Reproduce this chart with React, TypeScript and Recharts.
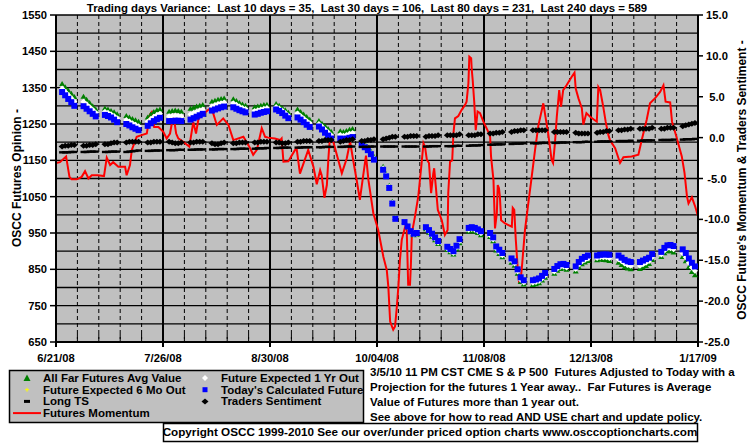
import React from "react";
import { ComposedChart, Scatter, Line, XAxis, YAxis, CartesianGrid } from "recharts";

const FONT = '"Liberation Sans", Arial, sans-serif';

const title =
  "Trading days Variance:  Last 10 days = 35,  Last 30 days = 106,  Last 80 days = 231,  Last 240 days = 589";

// x axis is calendar days counted from 6/21/08
const dateTicks = [0, 35, 70, 105, 140, 175, 210];
const dateLabels = ["6/21/08", "7/26/08", "8/30/08", "10/04/08", "11/08/08", "12/13/08", "1/17/09"];
const weekTicks = [
  0, 7, 14, 21, 28, 35, 42, 49, 56, 63, 70, 77, 84, 91, 98, 105,
  112, 119, 126, 133, 140, 147, 154, 161, 168, 175, 182, 189, 196, 203, 210,
];

const leftTicks = [650, 700, 750, 800, 850, 900, 950, 1000, 1050, 1100, 1150, 1200, 1250, 1300, 1350, 1400, 1450, 1500, 1550];
const rightTicks = [-25, -20, -15, -10, -5, 0, 5, 10, 15];

// Mon..Fri of each of the 30 weeks shown
const tradingDays: number[] = [];
for (let w = 0; w < 30; w++) for (let k = 2; k <= 6; k++) tradingDays.push(w * 7 + k);

// one row per week
const todayFuture = [
  1338, 1329, 1319, 1310, 1300,
  1299, 1292, 1285, 1278, 1271,
  1275, 1272, 1268, 1262, 1255,
  1250, 1246, 1241, 1237, 1233,
  1245, 1252, 1258, 1263, 1267,
  1258, 1258, 1259, 1259, 1258,
  1262, 1266, 1270, 1274, 1278,
  1287, 1290, 1293, 1296, 1298,
  1296, 1292, 1288, 1285, 1282,
  1276, 1278, 1281, 1283, 1285,
  1290, 1286, 1280, 1273, 1266,
  1268, 1262, 1255, 1248, 1242,
  1243, 1235, 1226, 1218, 1210,
  1210, 1208, 1210, 1212, 1214,
  1192, 1186, 1178, 1167, 1152,
  1124, 1106, 1074, 1031, 989,
  980, 968, 955, 948, 950,
  966, 958, 948, 938, 928,
  912, 906, 900, 915, 933,
  964, 966, 964, 960, 955,
  950, 938, 913, 904, 895,
  880, 872, 850, 828, 820,
  820, 822, 825, 832, 840,
  851, 859, 864, 865, 862,
  858, 870, 879, 884, 888,
  888, 890, 891, 891, 890,
  888, 882, 876, 872, 870,
  870, 874, 878, 882, 892,
  898, 909, 916, 917, 914,
  905, 895, 880, 868, 858,
];

const farFutures = [
  1360, 1351, 1342, 1333, 1324,
  1325, 1317, 1308, 1299, 1290,
  1293, 1290, 1286, 1282, 1277,
  1272, 1268, 1264, 1260, 1256,
  1268, 1276, 1283, 1288, 1290,
  1284, 1286, 1287, 1286, 1284,
  1292, 1295, 1298, 1300, 1302,
  1311, 1314, 1317, 1319, 1320,
  1318, 1313, 1308, 1304, 1300,
  1296, 1298, 1300, 1302, 1303,
  1305, 1300, 1294, 1288, 1281,
  1290, 1283, 1276, 1269, 1262,
  1258, 1251, 1244, 1236, 1229,
  1230, 1228, 1231, 1234, 1236,
  1202, 1195, 1186, 1174, 1160,
  1132, 1112, 1080, 1036, 992,
  980, 966, 952, 944, 945,
  960, 951, 940, 930, 920,
  903, 897, 891, 905, 922,
  954, 956, 954, 950, 944,
  939, 927, 902, 892, 883,
  868, 860, 838, 815, 808,
  807, 809, 812, 819, 827,
  838, 846, 851, 852, 849,
  844, 856, 864, 869, 873,
  875, 877, 876, 875, 873,
  868, 862, 856, 852, 850,
  851, 855, 859, 865, 876,
  884, 894, 900, 900, 896,
  884, 872, 856, 843, 834,
];

const oneYearOut = [
  1348, 1339, 1330, 1321, 1312,
  1311, 1304, 1297, 1289, 1281,
  1284, 1281, 1277, 1272, 1266,
  1261, 1257, 1252, 1248, 1244,
  1256, 1264, 1270, 1275, 1278,
  1271, 1272, 1273, 1272, 1271,
  1277, 1280, 1284, 1287, 1290,
  1299, 1302, 1305, 1307, 1309,
  1307, 1303, 1298, 1294, 1291,
  1286, 1288, 1290, 1292, 1294,
  1297, 1293, 1287, 1280, 1273,
  1279, 1272, 1265, 1258, 1252,
  1250, 1243, 1235, 1227, 1219,
  1220, 1218, 1220, 1223, 1225,
  1197, 1190, 1182, 1170, 1156,
  1128, 1109, 1077, 1033, 990,
  980, 967, 953, 946, 947,
  963, 955, 944, 934, 924,
  907, 901, 895, 910, 927,
  959, 961, 959, 955, 949,
  944, 932, 907, 898, 889,
  874, 866, 844, 821, 814,
  813, 815, 818, 825, 833,
  844, 852, 857, 858, 855,
  851, 863, 871, 876, 880,
  881, 883, 883, 883, 881,
  878, 872, 866, 862, 860,
  860, 864, 868, 873, 884,
  891, 901, 908, 908, 905,
  894, 883, 868, 855, 846,
];

const sixMonthOut = [
  1342, 1333, 1323, 1314, 1305,
  1303, 1296, 1289, 1282, 1275,
  1278, 1275, 1271, 1266, 1259,
  1254, 1250, 1245, 1241, 1237,
  1249, 1256, 1262, 1267, 1271,
  1262, 1263, 1263, 1263, 1262,
  1267, 1271, 1275, 1279, 1282,
  1291, 1294, 1297, 1300, 1302,
  1300, 1296, 1292, 1289, 1286,
  1280, 1282, 1284, 1287, 1289,
  1293, 1289, 1283, 1276, 1269,
  1272, 1266, 1259, 1252, 1246,
  1246, 1238, 1229, 1221, 1213,
  1214, 1212, 1214, 1216, 1218,
  1194, 1188, 1180, 1168, 1154,
  1126, 1107, 1075, 1032, 989,
  980, 967, 954, 947, 948,
  964, 956, 946, 936, 926,
  910, 904, 898, 912, 930,
  961, 963, 961, 957, 952,
  947, 935, 910, 901, 892,
  877, 869, 847, 825, 817,
  816, 818, 821, 828, 836,
  847, 855, 860, 861, 858,
  854, 866, 875, 880, 884,
  884, 886, 887, 887, 885,
  883, 877, 871, 867, 865,
  865, 869, 873, 877, 888,
  894, 905, 912, 912, 909,
  899, 889, 874, 861, 852,
];

const longTS = [
  1172, 1172, 1172, 1173, 1173,
  1173, 1173, 1174, 1174, 1174,
  1173, 1173, 1174, 1174, 1174,
  1173, 1174, 1175, 1176, 1177,
  1176, 1176, 1177, 1177, 1177,
  1178, 1178, 1178, 1179, 1179,
  1179, 1179, 1180, 1180, 1180,
  1180, 1180, 1181, 1181, 1181,
  1181, 1181, 1182, 1182, 1182,
  1182, 1183, 1183, 1183, 1184,
  1184, 1184, 1185, 1185, 1185,
  1185, 1185, 1186, 1186, 1186,
  1186, 1186, 1187, 1187, 1187,
  1187, 1187, 1188, 1188, 1188,
  1187, 1187, 1187, 1188, 1188,
  1188, 1188, 1188, 1188, 1188,
  1188, 1188, 1188, 1188, 1188,
  1188, 1188, 1189, 1189, 1189,
  1189, 1189, 1189, 1190, 1190,
  1190, 1191, 1191, 1191, 1192,
  1193, 1193, 1194, 1194, 1194,
  1195, 1196, 1196, 1196, 1197,
  1197, 1197, 1197, 1198, 1198,
  1198, 1198, 1199, 1199, 1199,
  1200, 1200, 1200, 1201, 1201,
  1201, 1202, 1202, 1202, 1202,
  1203, 1203, 1203, 1203, 1204,
  1204, 1204, 1205, 1205, 1205,
  1206, 1206, 1206, 1206, 1207,
  1207, 1208, 1208, 1208, 1209,
];

const tradersSentiment = [
  -1.1, -1.0, -1.0, -0.9, -0.9,
  -1.0, -1.0, -0.9, -0.9, -0.8,
  -0.8, -0.8, -0.7, -0.6, -0.6,
  -0.6, -0.5, -0.5, -0.5, -0.5,
  -0.6, -0.6, -0.5, -0.5, -0.5,
  -0.5, -0.6, -0.7, -0.7, -0.6,
  -0.6, -0.6, -0.5, -0.5, -0.5,
  -0.7, -0.8, -0.8, -0.7, -0.6,
  -0.7, -0.7, -0.6, -0.6, -0.6,
  -0.6, -0.6, -0.5, -0.5, -0.5,
  -0.6, -0.6, -0.7, -0.7, -0.6,
  -0.5, -0.5, -0.4, -0.4, -0.4,
  -0.4, -0.4, -0.3, -0.3, -0.3,
  -0.5, -0.4, -0.3, -0.3, -0.2,
  -0.4, -0.4, -0.3, -0.3, -0.2,
  -0.2, -0.1, 0.0, 0.1, 0.1,
  0.1, 0.1, 0.2, 0.2, 0.2,
  0.1, 0.2, 0.2, 0.2, 0.3,
  0.3, 0.3, 0.3, 0.3, 0.4,
  0.3, 0.3, 0.3, 0.4, 0.4,
  0.5, 0.5, 0.6, 0.6, 0.7,
  0.7, 0.8, 0.8, 0.9, 0.9,
  0.9, 0.9, 0.9, 0.9, 0.9,
  0.7, 0.7, 0.7, 0.7, 0.7,
  0.6, 0.5, 0.5, 0.5, 0.5,
  0.6, 0.7, 0.7, 0.8, 0.8,
  0.9, 0.9, 1.0, 1.0, 1.1,
  1.1, 1.1, 1.1, 1.1, 1.2,
  1.1, 1.1, 1.2, 1.2, 1.2,
  1.4, 1.5, 1.6, 1.7, 1.8,
];

// [day, momentum]
const momentum: [number, number][] = [
  [0, -3.1], [1.3, -3.0], [3.3, -2.3], [4.4, -4.8], [5.1, -5.1], [6.8, -5.1], [8.4, -4.8], [9.5, -4.1],
  [10.6, -5.0], [11.7, -4.6], [13.7, -4.6], [15.7, -4.7], [16.6, -2.45], [17.7, -3.35], [18.7, -3.0],
  [20.4, -3.55], [22.6, -3.55], [23.1, -4.6], [24.2, -3.35], [24.8, -1.5], [26.4, 0.1], [28.0, 0.3],
  [29.7, 0.5], [30.7, 2.8], [31.3, 3.1], [32.1, 1.3], [33.5, 1.3], [35.1, 0.7], [36.2, -0.1], [37.3, 0.5],
  [38.4, 2.8], [39.3, 0.5], [40.0, -0.1], [41.6, -0.5], [43.6, -1.1], [44.9, 1.9], [45.8, 0.5], [46.6, 2.3],
  [49.8, 3.4], [50.9, 3.6], [52.6, 1.55], [54.7, 2.35], [56.4, 1.55], [58.0, -0.3], [61.3, 0.1],
  [63.5, -1.3], [64.5, -2.1], [65.7, -1.5], [67.3, 1.15], [68.4, 0.1], [69.4, 0.0], [71.6, -0.1],
  [73.3, -0.3], [73.8, -0.1], [74.4, -2.95], [76.0, -2.9], [78.2, -1.5], [78.7, -1.3], [79.8, -4.4],
  [82.5, -1.5], [84.2, -3.55], [85.3, -5.7], [86.4, -4.0], [86.9, -4.6], [87.8, -7.35], [88.6, -5.8],
  [89.1, -2.55], [89.6, 0.1], [90.7, -0.5], [93.5, -4.35], [95.1, -2.55], [96.2, -0.5], [97.3, -2.95],
  [98.4, -5.3], [99.4, -7.6], [100.5, -4.6], [101.4, -2.2], [102.2, -5.2], [103.8, -9.25], [105.4, -11.3],
  [107.1, -14.6], [108.2, -16.2], [108.7, -18.2], [109.3, -22.5], [110.3, -23.5], [110.9, -23.1],
  [111.4, -21.1], [112.0, -18.2], [112.5, -15.0], [113.1, -12.5], [114.2, -10.9], [114.7, -11.0],
  [115.2, -18.0], [115.8, -18.0], [116.1, -15.4], [116.4, -11.7], [117.4, -9.7], [118.5, -7.2],
  [119.6, -3.1], [120.2, -0.7], [120.7, -1.1], [121.3, -2.7], [122.0, -3.1], [122.7, -6.8], [123.4, -4.4],
  [123.7, -3.75], [124.2, -5.8], [124.9, -8.85], [126.2, -10.1], [127.2, -11.9], [128.1, -11.3],
  [128.3, -6.8], [128.9, -2.95], [129.6, -2.8], [130.0, 0.5], [130.5, 2.35], [131.6, 2.65], [132.7, 3.4],
  [133.8, 4.0], [134.3, 4.4], [134.9, 6.65], [135.2, 9.9], [135.8, 9.7], [136.0, 8.3], [136.3, 7.05],
  [136.8, 4.4], [137.3, 0.9], [137.9, 3.2], [138.7, 3.0], [139.8, 1.95], [141.4, 0.7], [142.0, 0.1],
  [142.3, -2.3], [143.1, -5.2], [143.6, -11.1], [144.2, -9.25], [144.5, -5.8], [144.9, -6.2],
  [145.2, -7.2], [145.6, -10.1], [146.9, -10.5], [148.0, -10.7], [149.1, -10.9], [149.4, -8.6],
  [149.9, -8.85], [150.4, -12.5], [151.0, -15.8], [151.5, -17.8], [152.1, -17.0], [152.5, -15.4],
  [153.4, -11.3], [154.5, -8.0], [155.6, -4.8], [156.7, -1.5], [157.8, 1.5], [159.4, 4.2], [161.0, 0.5],
  [162.1, -2.7], [162.6, -3.1], [163.2, -0.7], [163.8, 2.5], [164.6, 5.8], [165.2, 3.8], [165.9, 5.8],
  [167.0, 6.4], [168.7, 7.45], [169.6, 7.95], [170.0, 6.0], [170.9, 4.8], [172.0, 3.6], [172.5, 1.6],
  [173.5, 3.0], [174.7, 2.55], [176.9, 1.95], [177.4, 6.2], [178.0, 5.8], [179.0, 3.8], [179.8, 1.95],
  [180.7, 0.3], [181.2, -0.3], [182.9, -1.3], [184.5, -3.1], [185.6, -2.4], [188.3, -2.3], [190.5, -2.1],
  [191.6, -0.3], [193.2, 2.15], [194.3, 4.2], [195.9, 4.8], [197.6, 5.6], [198.7, 6.4], [199.4, 4.4],
  [200.9, 4.3], [201.5, 1.95], [202.8, 0.3], [204.7, -2.3], [205.6, -4.35], [206.4, -7.2], [206.9, -8.05],
  [208.0, -7.3], [209.1, -8.45], [210, -9.6],
];

const toPoints = (vals: number[]) => vals.map((v, i) => ({ d: tradingDays[i], v }));
const momentumData = momentum.map(([d, r]) => ({ d, r }));

const Triangle = (p: any) => (
  <polygon points={`${p.cx},${p.cy - 3} ${p.cx - 3},${p.cy + 2} ${p.cx + 3},${p.cy + 2}`} fill="#008000" />
);
const Plus = (p: any) => (
  <path d={`M${p.cx - 2},${p.cy}H${p.cx + 2}M${p.cx},${p.cy - 2}V${p.cy + 2}`} stroke="#ffff00" strokeWidth={1} />
);
const WhiteDiamond = (p: any) => (
  <polygon points={`${p.cx},${p.cy - 3} ${p.cx + 3},${p.cy} ${p.cx},${p.cy + 3} ${p.cx - 3},${p.cy}`} fill="#fff" />
);
const BlueSquare = (p: any) => <rect x={p.cx - 3} y={p.cy - 3} width={6} height={6} fill="#0000ff" />;
const Dash = (p: any) => <rect x={p.cx - 3} y={p.cy - 1.2} width={6} height={2.4} fill="#000" />;
const BlackDiamond = (p: any) => (
  <polygon points={`${p.cx},${p.cy - 3} ${p.cx + 3.5},${p.cy} ${p.cx},${p.cy + 3} ${p.cx - 3.5},${p.cy}`} fill="#000" />
);

const LeftTick = (p: any) => {
  const v = p.payload.value;
  if ((v - 650) % 100 !== 0) return <g />;
  return (
    <g>
      <line x1={p.x - 6} x2={p.x} y1={p.y} y2={p.y} stroke="#000" strokeWidth={1.5} />
      <text x={p.x - 9} y={p.y + 4} textAnchor="end" fontSize={11.2} fontWeight="bold" fontFamily={FONT} fill="#000">
        {v}
      </text>
    </g>
  );
};

const RightTick = (p: any) => (
  <g>
    <line x1={p.x} x2={p.x + 5} y1={p.y} y2={p.y} stroke="#000" strokeWidth={1.5} />
    <text x={p.x + 19} y={p.y + 4} textAnchor="middle" fontSize={11.2} fontWeight="bold" fontFamily={FONT} fill="#000">
      {p.payload.value.toFixed(1)}
    </text>
  </g>
);

const BottomTick = (p: any) => {
  const i = dateTicks.indexOf(p.payload.value);
  if (i < 0) {
    return <line x1={p.x} x2={p.x} y1={p.y - 8} y2={p.y - 3} stroke="#000" strokeWidth={1} />;
  }
  return (
    <g>
      <line x1={p.x} x2={p.x} y1={p.y} y2={p.y + 5} stroke="#000" strokeWidth={2} />
      <text x={p.x} y={p.y + 20} textAnchor="middle" fontSize={11.2} fontWeight="bold" fontFamily={FONT} fill="#000">
        {dateLabels[i]}
      </text>
    </g>
  );
};

const legendLeft = [
  { label: "All Far Futures Avg Value", icon: "tri" },
  { label: "Future Expected 6 Mo Out", icon: "plus" },
  { label: "Long TS", icon: "dash" },
  { label: "Futures Momentum", icon: "line" },
];
const legendRight = [
  { label: "Future Expected 1 Yr Out", icon: "wdia" },
  { label: "Today's Calculated Future", icon: "sq" },
  { label: "Traders Sentiment", icon: "bdia" },
];

const notes = [
  "3/5/10 11 PM CST CME S & P 500  Futures Adjusted to Today with a",
  "Projection for the futures 1 Year away..  Far Futures is Average",
  "Value of Futures more than 1 year out.",
  "See above for how to read AND USE chart and update policy.",
];
const copyright = "Copyright OSCC 1999-2010 See our over/under priced option charts www.osccoptioncharts.com";

function LegendIcon({ kind, x, y }: { kind: string; x: number; y: number }) {
  if (kind === "tri") return <polygon points={`${x},${y - 3.5} ${x - 3.5},${y + 3} ${x + 3.5},${y + 3}`} fill="#008000" />;
  if (kind === "plus") return <Plus cx={x} cy={y} />;
  if (kind === "dash") return <rect x={x - 3} y={y - 1.5} width={6} height={3} fill="#000" />;
  if (kind === "line") return <line x1={x - 14} x2={x + 14} y1={y} y2={y} stroke="#ff0000" strokeWidth={2} />;
  if (kind === "wdia") return <WhiteDiamond cx={x} cy={y} />;
  if (kind === "sq") return <rect x={x - 2.5} y={y - 2.5} width={5} height={5} fill="#0000ff" />;
  return <BlackDiamond cx={x} cy={y} />;
}

const txt = { fontFamily: FONT, fontSize: 11.3, fontWeight: "bold" as const, fill: "#000", whiteSpace: "pre" as const };

export default function App() {
  return (
    <div style={{ position: "absolute", left: 0, top: 0, width: 755, height: 446, background: "#fff" }}>
      <div style={{ position: "absolute", left: 0, top: 0 }}>
        <ComposedChart width={755} height={446} margin={{ top: 15, right: 0, bottom: 74, left: 0 }}>
          <CartesianGrid yAxisId="left" vertical={false} stroke="#000" strokeWidth={1.4} fill="#c0c0c0" fillOpacity={1} />
          <CartesianGrid yAxisId="left" horizontal={false} stroke="#000" strokeWidth={1} strokeDasharray="4 3" />
          <CartesianGrid xAxisId="major" yAxisId="left" horizontal={false} stroke="#000" strokeWidth={2} />
          <XAxis
            type="number"
            dataKey="d"
            domain={[0, 210]}
            ticks={weekTicks}
            interval={0}
            height={30}
            tickSize={0}
            tickMargin={0}
            tickLine={false}
            axisLine={{ stroke: "#000", strokeWidth: 2 }}
            tick={(p: any) => <BottomTick {...p} />}
            allowDataOverflow
          />
          <XAxis xAxisId="major" type="number" dataKey="d" domain={[0, 210]} ticks={dateTicks} interval={0} hide allowDataOverflow />
          <YAxis
            yAxisId="left"
            type="number"
            domain={[650, 1550]}
            ticks={leftTicks}
            interval={0}
            width={56}
            tickSize={0}
            tickMargin={0}
            tickLine={false}
            axisLine={{ stroke: "#000", strokeWidth: 2 }}
            tick={(p: any) => <LeftTick {...p} />}
            allowDataOverflow
          />
          <YAxis
            yAxisId="right"
            orientation="right"
            type="number"
            domain={[-25, 15]}
            ticks={rightTicks}
            interval={0}
            width={57}
            tickSize={0}
            tickMargin={0}
            tickLine={false}
            axisLine={{ stroke: "#000", strokeWidth: 2 }}
            tick={(p: any) => <RightTick {...p} />}
            allowDataOverflow
          />
          <Scatter yAxisId="left" data={toPoints(farFutures)} dataKey="v" shape={Triangle} isAnimationActive={false} />
          <Scatter yAxisId="left" data={toPoints(sixMonthOut)} dataKey="v" shape={Plus} isAnimationActive={false} />
          <Scatter yAxisId="left" data={toPoints(oneYearOut)} dataKey="v" shape={WhiteDiamond} isAnimationActive={false} />
          <Scatter yAxisId="left" data={toPoints(todayFuture)} dataKey="v" shape={BlueSquare} isAnimationActive={false} />
          <Scatter yAxisId="left" data={toPoints(longTS)} dataKey="v" shape={Dash} isAnimationActive={false} />
          <Scatter yAxisId="right" data={toPoints(tradersSentiment)} dataKey="v" shape={BlackDiamond} isAnimationActive={false} />
          <Line
            yAxisId="right"
            data={momentumData}
            dataKey="r"
            type="linear"
            stroke="#ff0000"
            strokeWidth={2}
            dot={false}
            activeDot={false}
            isAnimationActive={false}
          />
        </ComposedChart>
      </div>
      <svg width={755} height={446} style={{ position: "absolute", left: 0, top: 0, pointerEvents: "none" }}>
        <text x={367} y={12} textAnchor="middle" style={{ ...txt, fontSize: 11.4 }}>
          {title}
        </text>
        <text transform="translate(21,178) rotate(-90)" textAnchor="middle" style={{ ...txt, fontSize: 12 }}>
          OSCC Futures Opinion -
        </text>
        <text transform="translate(746,180) rotate(-90)" textAnchor="middle" style={{ ...txt, fontSize: 12 }}>
          OSCC Future's Momentum &amp; Traders Sentiment -
        </text>
        <rect x={9.5} y={370.5} width={354} height={52} fill="#c0c0c0" stroke="#000" strokeWidth={1.5} />
        {legendLeft.map((it, i) => (
          <g key={it.label}>
            <LegendIcon kind={it.icon} x={27} y={378 + i * 11.7} />
            <text x={43} y={382 + i * 11.7} style={{ ...txt, fontSize: 11.5 }}>
              {it.label}
            </text>
          </g>
        ))}
        {legendRight.map((it, i) => (
          <g key={it.label}>
            <LegendIcon kind={it.icon} x={205} y={378 + i * 11.7} />
            <text x={221} y={382 + i * 11.7} style={{ ...txt, fontSize: 11.5 }}>
              {it.label}
            </text>
          </g>
        ))}
        {notes.map((n, i) => (
          <text key={i} x={370} y={376 + i * 15} style={{ ...txt, fontSize: 11.5 }}>
            {n}
          </text>
        ))}
        <rect x={163.5} y={423.5} width={534} height={18} fill="#fff" stroke="#000" strokeWidth={1.5} />
        <text x={430} y={436} textAnchor="middle" style={{ ...txt, fontSize: 11.7 }}>
          {copyright}
        </text>
      </svg>
    </div>
  );
}
